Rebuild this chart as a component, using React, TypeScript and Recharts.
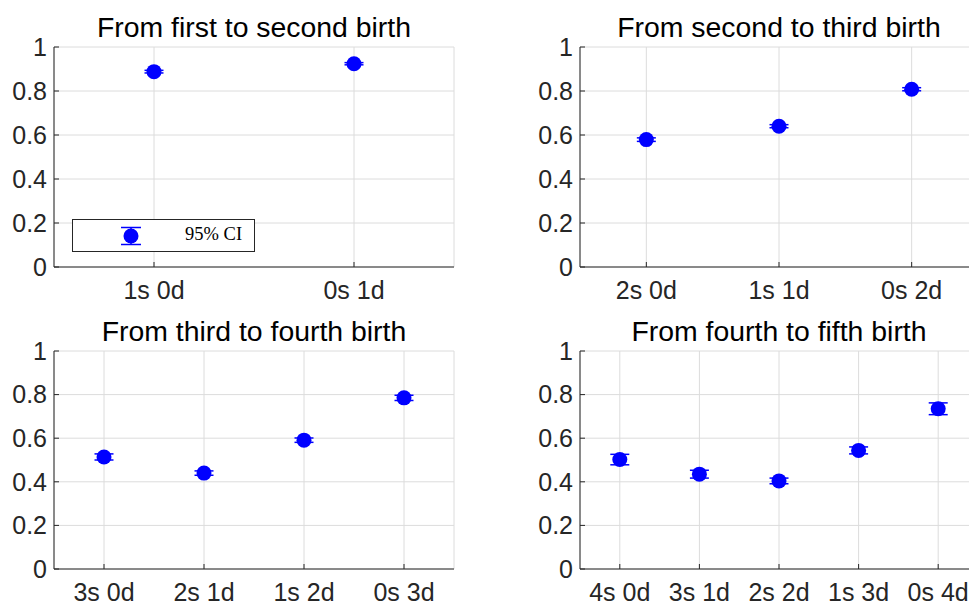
import React from 'react'
import { CartesianGrid, ErrorBar, Scatter, ScatterChart, XAxis, YAxis } from 'recharts'

const labels1 = ['1s 0d', '0s 1d']
const values1 = [0.888, 0.924]
const ci1 = [0.006, 0.005]

const labels2 = ['2s 0d', '1s 1d', '0s 2d']
const values2 = [0.579, 0.64, 0.808]
const ci2 = [0.008, 0.007, 0.007]

const labels3 = ['3s 0d', '2s 1d', '1s 2d', '0s 3d']
const values3 = [0.514, 0.44, 0.591, 0.785]
const ci3 = [0.014, 0.01, 0.01, 0.012]

const labels4 = ['4s 0d', '3s 1d', '2s 2d', '1s 3d', '0s 4d']
const values4 = [0.502, 0.435, 0.404, 0.544, 0.735]
const ci4 = [0.024, 0.018, 0.013, 0.016, 0.027]

const yTicks = [0, 0.2, 0.4, 0.6, 0.8, 1]

const FONT = '"Liberation Sans", Arial, Helvetica, sans-serif'
const AXIS = '#262626'
const GRID = '#dcdcdc'
const BLUE = '#0000ff'

const YW = 54
const MT = 20
const MR = 10
const XH = 50

interface PanelProps {
  title: string
  labels: string[]
  values: number[]
  ci: number[]
  left: number
  top: number
  width: number
  height: number
}

const Dot = (props: any) => <circle cx={props.cx} cy={props.cy} r={7.5} fill={BLUE} />

const Panel: React.FC<PanelProps> = ({ title, labels, values, ci, left, top, width, height }) => {
  const rows = labels.map((l, i) => ({ x: i + 1, y: values[i], e: ci[i] }))
  const xTicks = labels.map((_, i) => i + 1)
  return (
    <>
      <div style={{ position: 'absolute', left: left - YW, top: top - MT }}>
        <ScatterChart
          width={YW + width + MR}
          height={MT + height + XH}
          margin={{ top: MT, right: MR, left: 0, bottom: 0 }}
        >
          <CartesianGrid stroke={GRID} strokeWidth={1} />
          <XAxis
            type="number"
            dataKey="x"
            domain={[0.5, labels.length + 0.5]}
            ticks={xTicks}
            tickFormatter={(v: number) => labels[v - 1]}
            height={XH}
            stroke={AXIS}
            tickSize={-5}
            tickMargin={19}
            tick={{ fill: AXIS, fontSize: 25 }}
            interval={0}
          />
          <YAxis
            type="number"
            dataKey="y"
            domain={[0, 1]}
            ticks={yTicks}
            width={YW}
            stroke={AXIS}
            tickSize={-5}
            tickMargin={12}
            tick={{ fill: AXIS, fontSize: 25 }}
            interval={0}
          />
          <Scatter data={rows} fill={BLUE} shape={Dot} isAnimationActive={false}>
            <ErrorBar dataKey="e" direction="y" width={9.5} stroke={BLUE} strokeWidth={1.5} />
          </Scatter>
        </ScatterChart>
      </div>
      <div
        style={{
          position: 'absolute',
          left,
          width,
          top: top - 34,
          textAlign: 'center',
          fontSize: 28.4,
          lineHeight: 1,
          color: '#000',
          whiteSpace: 'nowrap',
        }}
      >
        {title}
      </div>
    </>
  )
}

const LegendBox = () => (
  <div
    style={{
      position: 'absolute',
      left: 72,
      top: 219,
      width: 181,
      height: 31,
      border: '1px solid #262626',
      background: '#fff',
    }}
  >
    <svg width={40} height={31} style={{ position: 'absolute', left: 38, top: 0 }}>
      <line x1={10} x2={30} y1={7.5} y2={7.5} stroke={BLUE} strokeWidth={1.5} />
      <line x1={10} x2={30} y1={24.5} y2={24.5} stroke={BLUE} strokeWidth={1.5} />
      <line x1={20} x2={20} y1={7.5} y2={24.5} stroke={BLUE} strokeWidth={1.5} />
      <circle cx={20} cy={16} r={7.5} fill={BLUE} />
    </svg>
    <span
      style={{
        position: 'absolute',
        left: 112,
        top: 5,
        fontFamily: '"Liberation Serif", "Times New Roman", serif',
        fontSize: 18.5,
        lineHeight: 1,
        color: '#000',
        whiteSpace: 'nowrap',
      }}
    >
      95% CI
    </span>
  </div>
)

export default function App() {
  return (
    <div
      style={{
        position: 'fixed',
        left: 0,
        top: 0,
        width: 969,
        height: 606,
        overflow: 'hidden',
        background: '#fff',
        fontFamily: FONT,
      }}
    >
      <Panel title="From first to second birth" labels={labels1} values={values1} ci={ci1} left={54} top={47} width={400} height={220} />
      <Panel title="From second to third birth" labels={labels2} values={values2} ci={ci2} left={580} top={47} width={398} height={220} />
      <Panel title="From third to fourth birth" labels={labels3} values={values3} ci={ci3} left={54} top={351} width={400} height={218} />
      <Panel title="From fourth to fifth birth" labels={labels4} values={values4} ci={ci4} left={580} top={351} width={398} height={218} />
      <LegendBox />
    </div>
  )
}
